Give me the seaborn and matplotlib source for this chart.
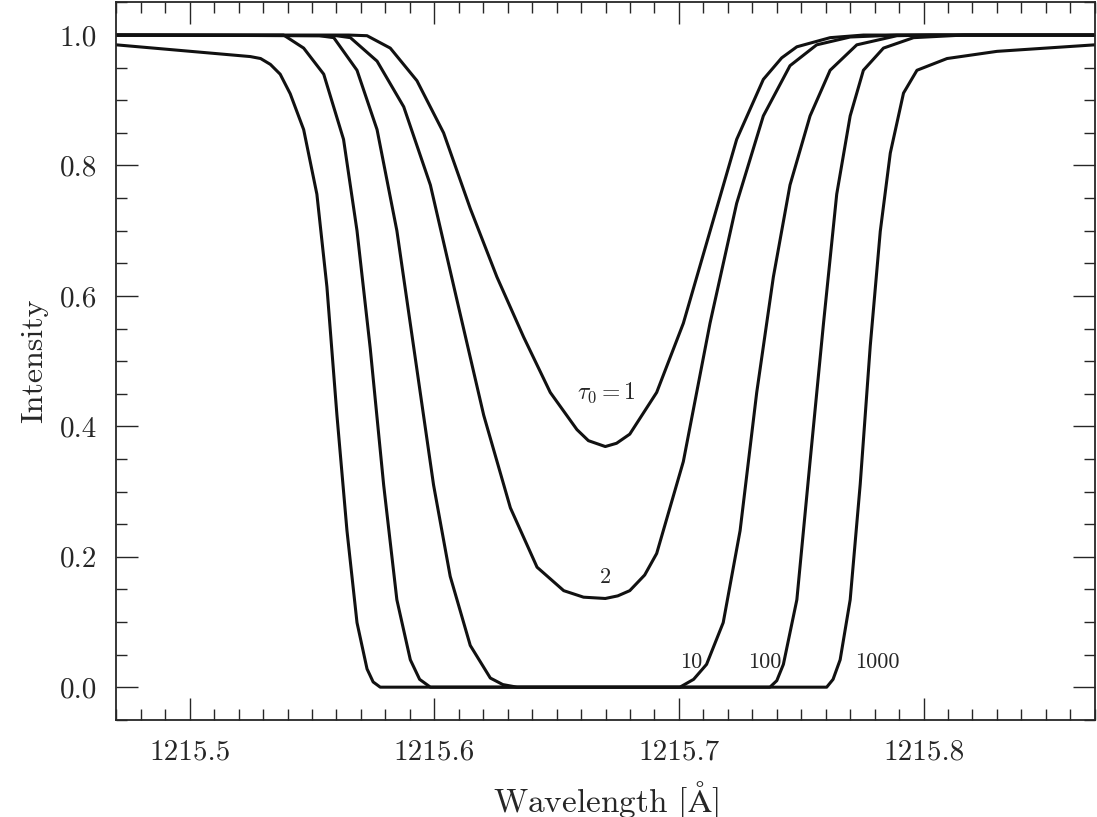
import numpy as np
import pandas as pd
import matplotlib
matplotlib.use('Agg')
import matplotlib.pyplot as plt
import seaborn as sns
from matplotlib.ticker import MultipleLocator

# values (wavelength offset from 1215 Å, intensity)
tau_labels = ['1', '2', '10', '100', '1000']

wl_tau1 = [0.470, 0.5650, 0.5725, 0.5820, 0.5929, 0.6038, 0.6147, 0.6256, 0.6365, 0.6474, 0.6583, 0.6630,
           0.6699, 0.6745, 0.6799, 0.6909, 0.7018, 0.7127, 0.7236, 0.7345, 0.7420, 0.7482, 0.7618,
           0.7754, 0.870]
in_tau1 = [1.0, 1.0, 0.999, 0.98, 0.93, 0.85, 0.734, 0.629, 0.537, 0.452, 0.395, 0.378,
           0.369, 0.374, 0.388, 0.452, 0.558, 0.699, 0.84, 0.932, 0.965, 0.982, 0.996,
           1.0, 1.0]

wl_tau2 = [0.470, 0.5600, 0.5657, 0.5766, 0.5875, 0.5984, 0.6093, 0.6202, 0.6311, 0.6420, 0.6529, 0.6610,
           0.6699, 0.6750, 0.6799, 0.6860, 0.6909, 0.7018, 0.7127, 0.7236, 0.7345, 0.7454, 0.7563,
           0.7700, 0.7891, 0.870]
in_tau2 = [1.0, 0.999, 0.996, 0.96, 0.89, 0.77, 0.593, 0.417, 0.275, 0.184, 0.148, 0.138,
           0.136, 0.140, 0.148, 0.172, 0.205, 0.346, 0.558, 0.742, 0.876, 0.953, 0.985,
           0.997, 1.0, 1.0]

wl_tau10 = [0.470, 0.5530, 0.5589, 0.5684, 0.5766, 0.5847, 0.5929, 0.5997, 0.6065, 0.6147, 0.6229, 0.6280,
            0.6338, 0.6700, 0.7004, 0.7060, 0.7113, 0.7181, 0.7250, 0.7318, 0.7386, 0.7454, 0.7536,
            0.7618, 0.7727, 0.7891, 0.8027, 0.870]
in_tau10 = [1.0, 0.999, 0.996, 0.946, 0.855, 0.70, 0.487, 0.31, 0.17, 0.064, 0.014, 0.004,
            0.0, 0.0, 0.0, 0.012, 0.035, 0.099, 0.24, 0.452, 0.629, 0.77, 0.876,
            0.946, 0.985, 0.999, 1.0, 1.0]

wl_tau100 = [0.470, 0.5384, 0.5466, 0.5548, 0.5629, 0.5684, 0.5738, 0.5793, 0.5847, 0.5902, 0.5940,
             0.5984, 0.6700, 0.7372, 0.7400, 0.7427, 0.7482, 0.7536, 0.7591, 0.7645, 0.7700,
             0.7754, 0.7836, 0.7959, 0.8164, 0.870]
in_tau100 = [1.0, 1.0, 0.98, 0.94, 0.84, 0.70, 0.52, 0.31, 0.134, 0.042, 0.012,
             0.0, 0.0, 0.0, 0.010, 0.035, 0.134, 0.346, 0.558, 0.756, 0.876,
             0.946, 0.98, 0.996, 1.0, 1.0]

wl_tau1000 = [0.470, 0.5248, 0.5290, 0.5330, 0.5370, 0.5411, 0.5466, 0.5520, 0.5561, 0.5602, 0.5643,
              0.5684, 0.5725, 0.5750, 0.5779, 0.6700, 0.7604, 0.7630, 0.7659, 0.7700, 0.7741,
              0.7782, 0.7823, 0.7864, 0.7918, 0.7973, 0.8096, 0.8300, 0.870]
in_tau1000 = [0.985, 0.967, 0.964, 0.955, 0.94, 0.91, 0.855, 0.756, 0.614, 0.417, 0.24,
              0.099, 0.028, 0.008, 0.0, 0.0, 0.0, 0.012, 0.042, 0.134, 0.311,
              0.523, 0.699, 0.819, 0.911, 0.946, 0.964, 0.975, 0.985]

curves = {
    '1': (wl_tau1, in_tau1),
    '2': (wl_tau2, in_tau2),
    '10': (wl_tau10, in_tau10),
    '100': (wl_tau100, in_tau100),
    '1000': (wl_tau1000, in_tau1000),
}

rows = []
for tau, (wl, inten) in curves.items():
    for w, v in zip(wl, inten):
        rows.append({'tau': tau, 'wavelength': 1215.0 + w, 'intensity': v})
df = pd.DataFrame(rows)

sns.set_style('ticks')
plt.rcParams['font.family'] = ['serif']
plt.rcParams['font.serif'] = ['cmr10', 'DejaVu Serif']
plt.rcParams['mathtext.fontset'] = 'cm'
plt.rcParams['axes.formatter.use_mathtext'] = True

fig = plt.figure(figsize=(10.97, 8.17), dpi=100)
ax = fig.add_axes([0.106, 0.119, 0.892, 0.878])

for tau in tau_labels:
    sub = df[df['tau'] == tau]
    sns.lineplot(data=sub, x='wavelength', y='intensity', ax=ax, color='#111111',
                 linewidth=2.2, sort=False, estimator=None)

ax.set_xlim(1215.47, 1215.87)
ax.set_ylim(-0.05, 1.05)
ax.xaxis.set_major_locator(MultipleLocator(0.1))
ax.xaxis.set_minor_locator(MultipleLocator(0.01))
ax.yaxis.set_major_locator(MultipleLocator(0.2))
ax.yaxis.set_minor_locator(MultipleLocator(0.05))
ax.xaxis.set_major_formatter(matplotlib.ticker.FuncFormatter(lambda v, p: f'{v:.1f}'))
ax.yaxis.set_major_formatter(matplotlib.ticker.FuncFormatter(lambda v, p: f'{v:.1f}'))
ax.tick_params(which='both', direction='in', top=True, right=True, labelsize=21, width=1.0)
ax.tick_params(which='major', length=16, pad=14)
ax.tick_params(which='minor', length=8)
for s in ax.spines.values():
    s.set_linewidth(1.3)

ax.set_xlabel(r'Wavelength [$\mathrm{\AA}$]', fontsize=24, labelpad=10)
ax.set_ylabel('Intensity', fontsize=23, labelpad=8)

ax.text(1215.6705, 0.452, r'$\tau_0 = 1$', ha='center', va='center', fontsize=17)
ax.text(1215.670, 0.168, '2', ha='center', va='center', fontsize=16)
ax.text(1215.705, 0.038, '10', ha='center', va='center', fontsize=16)
ax.text(1215.735, 0.038, '100', ha='center', va='center', fontsize=16)
ax.text(1215.781, 0.038, '1000', ha='center', va='center', fontsize=16)

fig.savefig('out.png', dpi=100)
